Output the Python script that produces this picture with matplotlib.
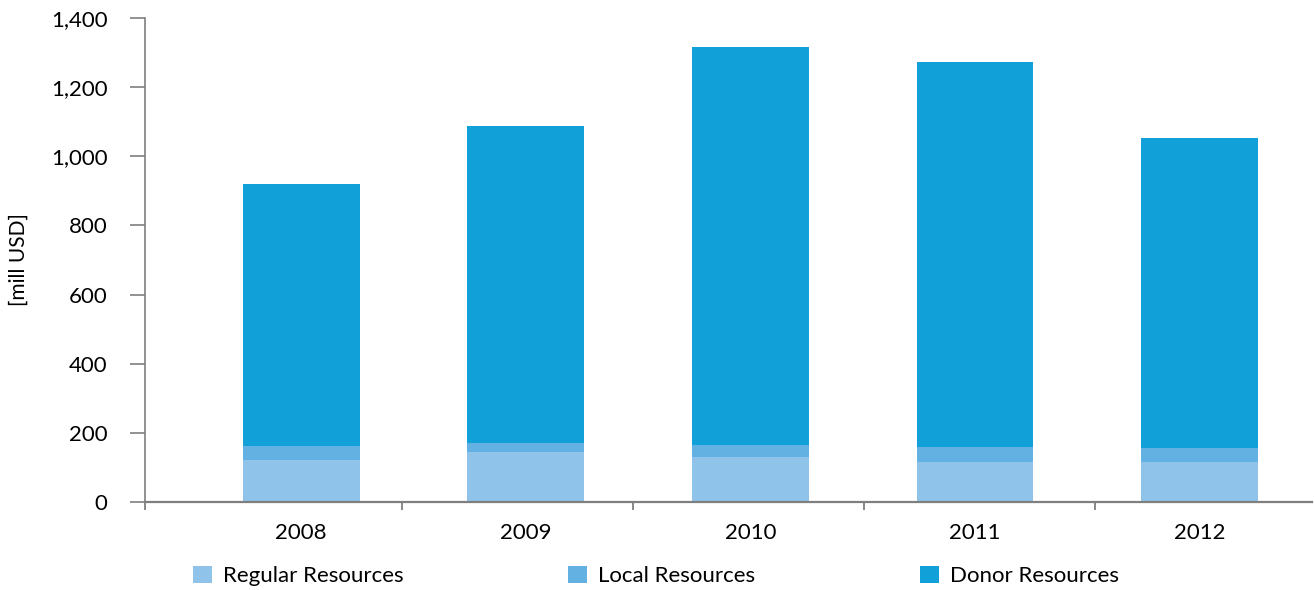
import matplotlib
matplotlib.use("Agg")
import matplotlib.pyplot as plt
from matplotlib.patches import Patch

years = ["2008", "2009", "2010", "2011", "2012"]
regular = [120, 145, 130, 116, 116]
local = [42, 26, 35, 43, 40]
donor = [757, 917, 1151, 1114, 897]

series = [
    ("Regular Resources", regular, "#90c3ea"),
    ("Local Resources", local, "#63b1e3"),
    ("Donor Resources", donor, "#12a0d9"),
]

plt.rcParams["font.family"] = ["Lato", "DejaVu Sans"]
axis_grey = "#7f7f7f"

fig = plt.figure(figsize=(13.14, 5.90), dpi=100)
ax = fig.add_axes([0.1104, 0.1492, 0.8881, 0.8203])

xs = list(range(len(years)))
bottom = [0] * len(years)
for name, vals, color in series:
    ax.bar(xs, vals, width=0.52, bottom=bottom, color=color, label=name, zorder=2)
    bottom = [b + v for b, v in zip(bottom, vals)]

ax.set_xlim(-0.695, 4.5)
ax.set_ylim(0, 1400)
ax.set_yticks(range(0, 1401, 200))
ax.set_yticklabels([f"{v:,}" for v in range(0, 1401, 200)], fontsize=16)
ax.set_ylabel("[mill USD]", fontsize=15)
ax.yaxis.set_label_coords(-0.100, 0.5)

# year labels sit under the bars; category separators use a slightly wider grid
ax.set_xticks(xs)
ax.set_xticklabels(years, fontsize=16)
ax.tick_params(axis="x", which="major", length=0, pad=15)
sep = [-0.695] + [0.45 + k * 1.0285 for k in range(len(years) - 1)]
ax.set_xticks(sep, minor=True)
ax.tick_params(axis="x", which="minor", length=6, width=1.3, color=axis_grey)
ax.tick_params(axis="y", length=11, width=1.2, color=axis_grey, pad=16)

for side in ("top", "right"):
    ax.spines[side].set_visible(False)
ax.spines["left"].set_color(axis_grey)
ax.spines["left"].set_linewidth(1.2)
ax.spines["bottom"].set_color(axis_grey)
ax.spines["bottom"].set_linewidth(1.6)
ax.spines["bottom"].set_zorder(3)

handles = [Patch(facecolor=c, edgecolor="none") for _, _, c in series]
fig.legend(handles, [n for n, _, _ in series], loc="center left",
           bbox_to_anchor=(0.147, 0.024), ncol=3, frameon=False, fontsize=16,
           handlelength=0.85, handleheight=0.85, handletextpad=0.5,
           columnspacing=7.4, borderaxespad=0, borderpad=0)

fig.savefig("out.png", dpi=100)
